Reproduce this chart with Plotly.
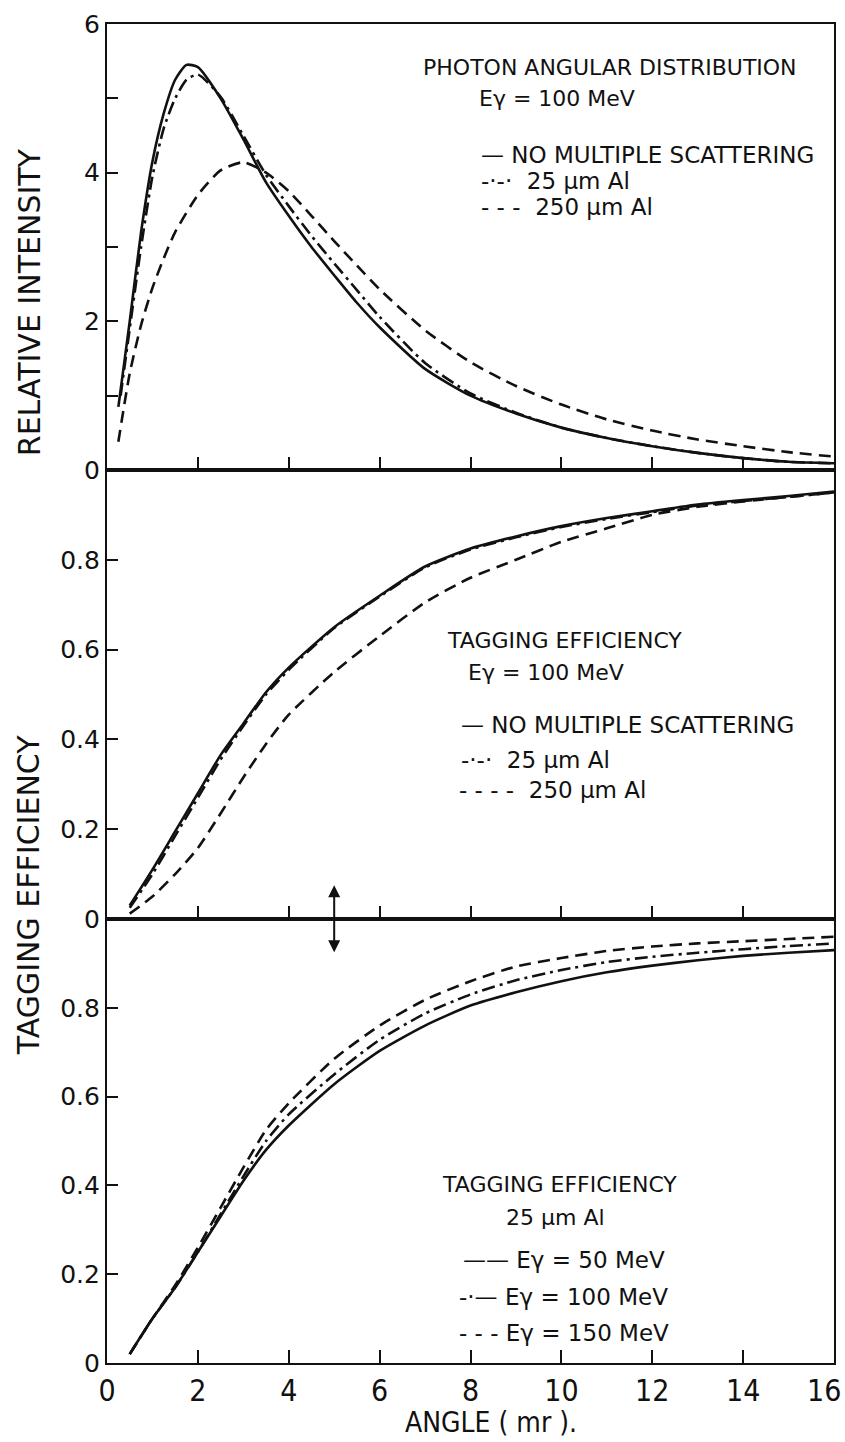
import plotly.graph_objects as go

# ---------------- data ----------------
# Panel 1: photon angular distribution, E_gamma = 100 MeV
ang1_solid = [0.25, 0.5, 0.75, 1.0, 1.25, 1.5, 1.75, 2.0, 2.5, 3.0, 3.5, 4.0, 4.5, 5.0, 5.5, 6.0, 7.0, 8.0, 9.0, 10.0, 11.0, 12.0, 13.0, 14.0, 15.0, 16.0]
int_no_ms = [0.85, 2.0, 3.2, 4.15, 4.8, 5.25, 5.45, 5.42, 5.0, 4.45, 3.87, 3.42, 3.0, 2.62, 2.25, 1.92, 1.36, 1.0, 0.76, 0.57, 0.43, 0.32, 0.23, 0.16, 0.11, 0.09]
ang1_dd = [0.3, 0.5, 0.75, 1.0, 1.25, 1.5, 1.75, 2.0, 2.5, 3.0, 3.5, 4.0, 4.5, 5.0, 5.5, 6.0, 7.0, 8.0, 9.0, 10.0, 11.0, 12.0, 13.0, 14.0, 15.0, 16.0]
int_25um = [1.0, 1.9, 3.0, 3.95, 4.6, 5.0, 5.25, 5.32, 5.02, 4.5, 3.97, 3.55, 3.15, 2.78, 2.42, 2.06, 1.44, 1.03, 0.77, 0.57, 0.43, 0.32, 0.23, 0.16, 0.11, 0.09]
ang1_dash = [0.25, 0.5, 0.75, 1.0, 1.25, 1.5, 2.0, 2.5, 3.0, 3.5, 4.0, 4.5, 5.0, 5.5, 6.0, 7.0, 8.0, 9.0, 10.0, 11.0, 12.0, 13.0, 14.0, 15.0, 16.0]
int_250um = [0.38, 1.3, 1.95, 2.45, 2.85, 3.2, 3.7, 4.03, 4.14, 4.0, 3.75, 3.42, 3.08, 2.75, 2.43, 1.88, 1.45, 1.13, 0.88, 0.68, 0.53, 0.41, 0.32, 0.24, 0.18]

# Panel 2: tagging efficiency, E_gamma = 100 MeV
ang2 = [0.5, 1.0, 1.5, 2.0, 2.5, 3.0, 3.5, 4.0, 5.0, 6.0, 7.0, 8.0, 9.0, 10.0, 11.0, 12.0, 13.0, 14.0, 15.0, 16.0]
eff_no_ms = [0.03, 0.11, 0.195, 0.28, 0.365, 0.435, 0.505, 0.56, 0.65, 0.72, 0.785, 0.825, 0.852, 0.875, 0.893, 0.908, 0.923, 0.933, 0.942, 0.952]
eff_25um = [0.025, 0.1, 0.185, 0.27, 0.355, 0.43, 0.5, 0.555, 0.648, 0.718, 0.783, 0.823, 0.85, 0.873, 0.891, 0.906, 0.921, 0.931, 0.94, 0.95]
eff_250um = [0.012, 0.05, 0.1, 0.158, 0.235, 0.315, 0.39, 0.455, 0.55, 0.63, 0.705, 0.76, 0.8, 0.84, 0.87, 0.9, 0.918, 0.93, 0.94, 0.95]

# Panel 3: tagging efficiency, 25 um Al
ang3 = [0.5, 1.0, 1.5, 2.0, 2.5, 3.0, 3.5, 4.0, 5.0, 6.0, 7.0, 8.0, 9.0, 10.0, 11.0, 12.0, 13.0, 14.0, 15.0, 16.0]
eff_50mev = [0.02, 0.1, 0.17, 0.25, 0.33, 0.41, 0.48, 0.535, 0.628, 0.703, 0.76, 0.805, 0.835, 0.86, 0.88, 0.895, 0.907, 0.917, 0.924, 0.93]
eff_100mev = [0.02, 0.1, 0.17, 0.25, 0.335, 0.42, 0.5, 0.56, 0.65, 0.728, 0.787, 0.83, 0.862, 0.885, 0.903, 0.915, 0.924, 0.932, 0.939, 0.945]
eff_150mev = [0.02, 0.1, 0.175, 0.26, 0.35, 0.44, 0.525, 0.585, 0.685, 0.76, 0.818, 0.86, 0.893, 0.912, 0.928, 0.938, 0.945, 0.95, 0.955, 0.96]

x_ticks = [0, 2, 4, 6, 8, 10, 12, 14, 16]
x_ticktext = ["0", "2", "4", "6", "8", "10", "12", "14", ""]
y1_ticks = [0, 1, 2, 3, 4, 5, 6]
y1_ticktext = ["0", "", "2", "", "4", "", "6"]
eff_ticks = [0, 0.2, 0.4, 0.6, 0.8]
eff_ticktext = ["0", "0.2", "0.4", "0.6", "0.8"]

# ---------------- figure ----------------
W, H = 845, 1442
ML, MR, MT, MB = 107, 9, 24, 79
FONT_N = "Liberation Sans Narrow, DejaVu Sans Condensed, DejaVu Sans, sans-serif"
FONT_TXT = "DejaVu Sans, sans-serif"
INK = "#111111"

SOLID = "solid"
DASHDOT = "13px,5px,3px,5px"
DASHED = "12px,7px"
LW = 2.6

fig = go.Figure()

def add(x, y, dash, xa, ya):
    fig.add_trace(go.Scatter(x=x, y=y, mode="lines",
                             line=dict(color=INK, width=LW, dash=dash, shape="spline", smoothing=0.6),
                             xaxis=xa, yaxis=ya, showlegend=False, hoverinfo="skip"))

add(ang1_dash, int_250um, DASHED, "x", "y")
add(ang1_dd, int_25um, DASHDOT, "x", "y")
add(ang1_solid, int_no_ms, SOLID, "x", "y")

add(ang2, eff_250um, DASHED, "x2", "y2")
add(ang2, eff_25um, DASHDOT, "x2", "y2")
add(ang2, eff_no_ms, SOLID, "x2", "y2")

add(ang3, eff_150mev, DASHED, "x3", "y3")
add(ang3, eff_100mev, DASHDOT, "x3", "y3")
add(ang3, eff_50mev, SOLID, "x3", "y3")

plot_h = H - MT - MB
def py(p):
    return (H - MB - p) / plot_h
def px(p):
    return (p - ML) / (W - ML - MR)

d1 = [py(470), 1.0]
d2 = [py(919), py(470)]
d3 = [0.0, py(919)]

xcommon = dict(range=[0, 16], tickvals=x_ticks, ticks="inside", ticklen=13, tickwidth=2, tickcolor=INK,
               showline=True, linecolor=INK, linewidth=2.2, mirror=True, showgrid=False, zeroline=False,
               domain=[0, 1])
ycommon = dict(ticks="inside", ticklen=11, tickwidth=2, tickcolor=INK, showline=True, linecolor=INK,
               linewidth=2.2, mirror=True, showgrid=False, zeroline=False,
               tickfont=dict(family=FONT_TXT, size=25, color=INK))

fig.update_layout(
    width=W, height=H, autosize=False,
    margin=dict(l=ML, r=MR, t=MT, b=MB),
    paper_bgcolor="white", plot_bgcolor="white",
    xaxis=dict(xcommon, anchor="y", showticklabels=False, matches="x3"),
    xaxis2=dict(xcommon, anchor="y2", showticklabels=False, matches="x3"),
    xaxis3=dict(xcommon, anchor="y3", showticklabels=True, ticktext=x_ticktext,
                tickfont=dict(family=FONT_N, size=30, color=INK)),
    yaxis=dict(ycommon, domain=d1, range=[0, 6], tickvals=y1_ticks, ticktext=y1_ticktext, anchor="x"),
    yaxis2=dict(ycommon, domain=d2, range=[0, 1], tickvals=eff_ticks, ticktext=eff_ticktext, anchor="x2"),
    yaxis3=dict(ycommon, domain=d3, range=[0, 1], tickvals=eff_ticks, ticktext=eff_ticktext, anchor="x3"),
)

# last x tick label placed by hand so it is not clipped at the page edge
fig.add_annotation(text="16", xref="paper", yref="paper", x=px(845), y=py(1390), showarrow=False,
                   xanchor="right", yanchor="middle", font=dict(family=FONT_N, size=30, color=INK))
# x axis title
fig.add_annotation(text="ANGLE ( mr ).", xref="paper", yref="paper", x=px(492), y=py(1423), showarrow=False,
                   xanchor="center", yanchor="middle", font=dict(family=FONT_N, size=28, color=INK))

# rotated axis titles
fig.add_annotation(text="RELATIVE INTENSITY", xref="paper", yref="paper", x=px(29), y=py(302),
                   textangle=-90, showarrow=False, font=dict(family=FONT_TXT, size=30, color=INK),
                   xanchor="center", yanchor="middle")
fig.add_annotation(text="TAGGING EFFICIENCY", xref="paper", yref="paper", x=px(29), y=py(895),
                   textangle=-90, showarrow=False, font=dict(family=FONT_TXT, size=30, color=INK),
                   xanchor="center", yanchor="middle")

def label(text, x, y, size=23):
    fig.add_annotation(text=text, xref="paper", yref="paper", x=px(x), y=py(y), showarrow=False,
                       xanchor="left", yanchor="middle", font=dict(family=FONT_TXT, size=size, color=INK))

# panel 1 text
label("PHOTON ANGULAR DISTRIBUTION", 422, 67, 22)
label("Eγ = 100 MeV", 478, 98, 22)
label("— NO MULTIPLE SCATTERING", 480, 155)
label("-·-·  25 μm Al", 480, 181)
label("- - -  250 μm Al", 480, 207)

# panel 2 text
label("TAGGING EFFICIENCY", 446, 640, 22)
label("Eγ = 100 MeV", 467, 672, 22)
label("— NO MULTIPLE SCATTERING", 460, 725)
label("-·-·  25 μm Al", 460, 760)
label("- - - -  250 μm Al", 458, 790)

# panel 3 text
label("TAGGING EFFICIENCY", 441, 1184, 22)
label("25 μm Al", 505, 1217, 22)
label("—— Eγ = 50 MeV", 462, 1260)
label("-·— Eγ = 100 MeV", 458, 1297)
label("- - - Eγ = 150 MeV", 458, 1333)

# double arrow at 5 mr across panel boundary
fig.add_annotation(x=5, y=0.075, xref="x2", yref="y2", ax=5, ay=0.0, axref="x2", ayref="y2",
                   showarrow=True, arrowhead=2, arrowsize=1.2, arrowwidth=2, arrowcolor=INK, text="")
fig.add_annotation(x=5, y=0.925, xref="x3", yref="y3", ax=5, ay=1.0, axref="x3", ayref="y3",
                   showarrow=True, arrowhead=2, arrowsize=1.2, arrowwidth=2, arrowcolor=INK, text="")

fig.write_html("out.html", config={"displayModeBar": False},
               post_script="document.body.style.margin='0';")
